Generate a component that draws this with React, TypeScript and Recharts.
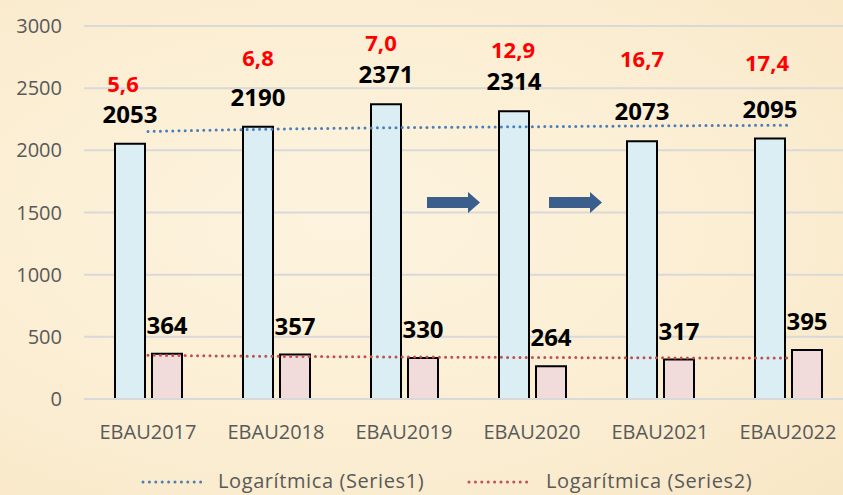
import React from 'react';
import { ComposedChart, Bar, Line, XAxis, YAxis, CartesianGrid, LabelList } from 'recharts';

const categories = ['EBAU2017', 'EBAU2018', 'EBAU2019', 'EBAU2020', 'EBAU2021', 'EBAU2022'];
const series1 = [2053, 2190, 2371, 2314, 2073, 2095];
const series2 = [364, 357, 330, 264, 317, 395];
const redLabels = ['5,6', '6,8', '7,0', '12,9', '16,7', '17,4'];
// logarithmic trend values at each category
const trend1 = [2152, 2171, 2183, 2190, 2197, 2202];
const trend2 = [352, 343, 338, 334, 331, 329];
const yTicks = [0, 500, 1000, 1500, 2000, 2500, 3000];

// vertical lift (px) of the red annotation above each blue bar top
const redLift = [61, 70, 62, 62, 83, 77];
const redShift = [-7, 0, -5, -1, 0, -3];

const data = categories.map((c, i) => ({
  name: c,
  s1: series1[i],
  s2: series2[i],
  red: redLabels[i],
  t1: trend1[i],
  t2: trend2[i],
}));

const FONT = '"Open Sans", sans-serif';
const GREY = '#595959';

const RedLabel = (props: any) => {
  const { x, y, width, value } = props;
  const i = redLabels.indexOf(value);
  return (
    <text
      x={x + width / 2 + (redShift[i] || 0)}
      y={y - (redLift[i] || 60)}
      textAnchor="middle"
      dominantBaseline="central"
      fill="#FF0000"
      fontFamily={FONT}
      fontWeight={700}
      fontSize={22}
    >
      {value}
    </text>
  );
};

const Arrow = ({ x }: { x: number }) => (
  <polygon
    points={`${x},197 ${x + 41},197 ${x + 41},192 ${x + 53},202.5 ${x + 41},213 ${x + 41},208 ${x},208`}
    fill="#3A5F8D"
  />
);

export default function App() {
  return (
    <div
      style={{
        position: 'absolute',
        left: 0,
        top: 0,
        width: 843,
        height: 495,
        overflow: 'hidden',
        background: 'radial-gradient(ellipse at 40% 45%, #FDF3DE 0%, #FBEED3 55%, #F8E7C6 100%)',
      }}
    >
      <ComposedChart
        width={860}
        height={495}
        data={data}
        margin={{ top: 26, right: 8, bottom: 46, left: 0 }}
        barSize={30}
        barGap={7}
      >
        <CartesianGrid vertical={false} stroke="#D9D9D9" strokeWidth={2} />
        <XAxis
          dataKey="name"
          axisLine={{ stroke: '#D9D9D9', strokeWidth: 2 }}
          tickLine={false}
          tickSize={0}
          tickMargin={26}
          height={50}
          tick={{ fill: GREY, fontSize: 20, fontFamily: FONT }}
        />
        <YAxis
          domain={[0, 3000]}
          ticks={yTicks}
          axisLine={false}
          tickLine={false}
          tickSize={0}
          tickMargin={22}
          width={84}
          tick={{ fill: GREY, fontSize: 20, fontFamily: FONT }}
        />
        <Bar dataKey="s1" fill="#DAEEF3" stroke="#000" strokeWidth={2} isAnimationActive={false}>
          <LabelList
            dataKey="s1"
            position="top"
            offset={21}
            fill="#000"
            fontFamily={FONT}
            fontWeight={700}
            fontSize={24}
          />
          <LabelList dataKey="red" content={RedLabel} />
        </Bar>
        <Bar dataKey="s2" fill="#F2DCDB" stroke="#000" strokeWidth={2} isAnimationActive={false}>
          <LabelList
            dataKey="s2"
            position="top"
            offset={20}
            fill="#000"
            fontFamily={FONT}
            fontWeight={700}
            fontSize={24}
          />
        </Bar>
        <Line
          dataKey="t1"
          type="monotone"
          stroke="#4A7EBB"
          strokeWidth={3}
          strokeDasharray="0 6.2"
          strokeLinecap="round"
          dot={false}
          activeDot={false}
          isAnimationActive={false}
        />
        <Line
          dataKey="t2"
          type="monotone"
          stroke="#C0504D"
          strokeWidth={3}
          strokeDasharray="0 6.2"
          strokeLinecap="round"
          dot={false}
          activeDot={false}
          isAnimationActive={false}
        />
      </ComposedChart>
      <svg
        width={843}
        height={495}
        style={{ position: 'absolute', left: 0, top: 0, pointerEvents: 'none' }}
      >
        <Arrow x={427} />
        <Arrow x={549} />
        <line x1={143} y1={482} x2={207} y2={482} stroke="#4A7EBB" strokeWidth={3} strokeDasharray="0 6.4" strokeLinecap="round" />
        <text x={218} y={480} dominantBaseline="central" fill={GREY} fontFamily={FONT} fontSize={20} letterSpacing={0.6}>
          Logarítmica (Series1)
        </text>
        <line x1={469} y1={482} x2={533} y2={482} stroke="#C0504D" strokeWidth={3} strokeDasharray="0 6.4" strokeLinecap="round" />
        <text x={546} y={480} dominantBaseline="central" fill={GREY} fontFamily={FONT} fontSize={20} letterSpacing={0.6}>
          Logarítmica (Series2)
        </text>
      </svg>
    </div>
  );
}
